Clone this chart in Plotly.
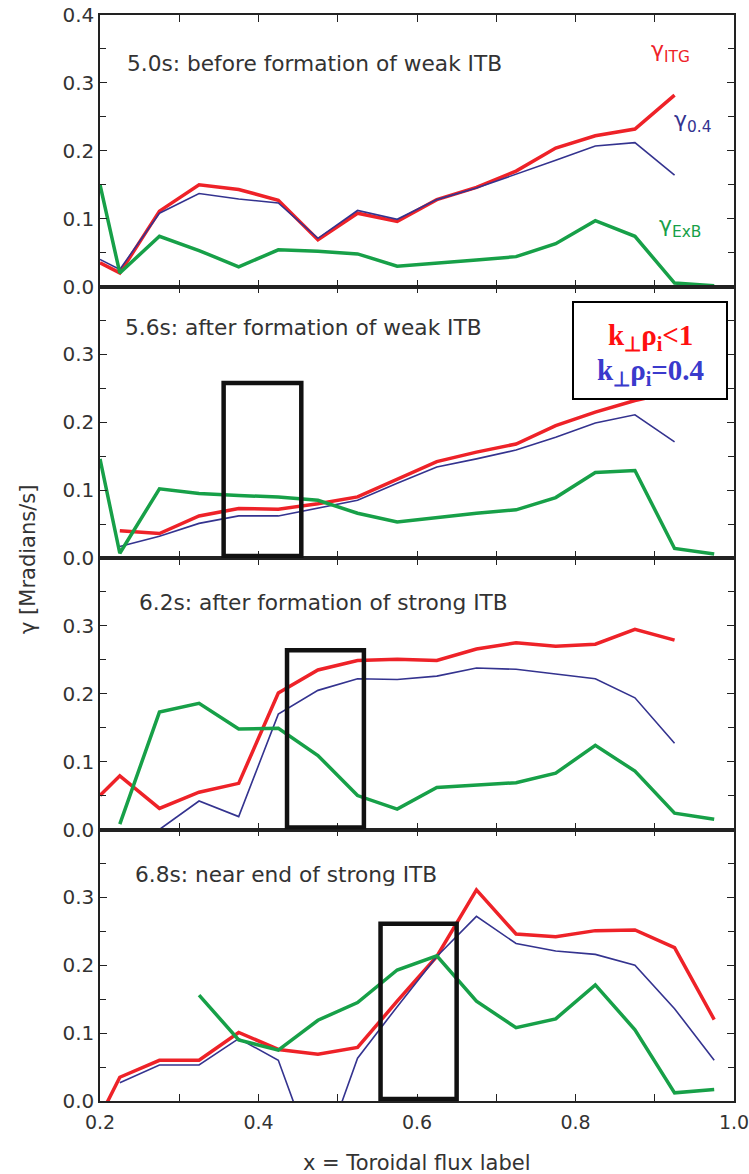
import plotly.graph_objects as go
from plotly.subplots import make_subplots

# ---------------- data ----------------
x_flux = [0.2, 0.225, 0.275, 0.325, 0.375, 0.425, 0.475, 0.525, 0.575, 0.625,
          0.675, 0.725, 0.775, 0.825, 0.875, 0.925, 0.975]

panel_titles = ["5.0s: before formation of weak ITB",
                "5.6s: after formation of weak ITB",
                "6.2s: after formation of strong ITB",
                "6.8s: near end of strong ITB"]

# 5.0 s
itg_50 = [0.035, 0.020, 0.111, 0.150, 0.143, 0.127, 0.069, 0.108, 0.096, 0.128,
          0.146, 0.170, 0.204, 0.222, 0.232, 0.282, None]
k04_50 = [0.040, 0.025, 0.108, 0.137, 0.129, 0.123, 0.071, 0.112, 0.099, 0.128,
          0.145, 0.165, 0.186, 0.207, 0.212, 0.164, None]
exb_50 = [0.150, 0.020, 0.074, 0.053, 0.029, 0.054, 0.052, 0.048, 0.030, 0.034,
          0.039, 0.044, 0.063, 0.097, 0.074, 0.005, 0.001]
# 5.6 s
itg_56 = [None, 0.040, 0.036, 0.062, 0.073, 0.072, 0.080, 0.090, 0.116, 0.142,
          0.156, 0.168, 0.195, 0.215, 0.232, 0.245, None]
k04_56 = [None, 0.017, 0.032, 0.051, 0.062, 0.062, 0.073, 0.085, 0.110, 0.134,
          0.146, 0.159, 0.178, 0.199, 0.211, 0.171, None]
exb_56 = [0.146, 0.007, 0.102, 0.095, 0.092, 0.090, 0.085, 0.066, 0.053, 0.060,
          0.066, 0.071, 0.089, 0.126, 0.129, 0.014, 0.006]
# 6.2 s
itg_62 = [0.050, 0.079, 0.031, 0.055, 0.068, 0.201, 0.235, 0.249, 0.251, 0.249,
          0.266, 0.275, 0.270, 0.273, 0.295, 0.279, None]
k04_62 = [None, None, 0.000, 0.042, 0.019, 0.170, 0.205, 0.222, 0.221, 0.226,
          0.238, 0.236, 0.229, 0.222, 0.194, 0.127, None]
exb_62 = [None, 0.008, 0.173, 0.186, 0.148, 0.149, 0.109, 0.050, 0.030, 0.062,
          0.066, 0.069, 0.083, 0.124, 0.086, 0.024, 0.015]
# 6.8 s
itg_68 = [-0.023, 0.035, 0.060, 0.060, 0.101, 0.076, 0.069, 0.079, 0.147, 0.213,
          0.311, 0.246, 0.242, 0.251, 0.252, 0.226, 0.120]
k04_68 = [None, 0.027, 0.053, 0.053, 0.092, 0.060, -0.100, 0.063, 0.139, 0.213,
          0.272, 0.232, 0.221, 0.216, 0.200, 0.136, 0.060]
exb_68 = [None, None, None, 0.156, 0.090, 0.075, 0.119, 0.145, 0.193, 0.214,
          0.147, 0.108, 0.121, 0.171, 0.105, 0.012, 0.017]

itg_all = [itg_50, itg_56, itg_62, itg_68]
k04_all = [k04_50, k04_56, k04_62, k04_68]
exb_all = [exb_50, exb_56, exb_62, exb_68]

# highlighted barrier regions (panel index, x start, x end, top)
box_panel = [2, 3, 4]
box_x0 = [0.356, 0.436, 0.554]
box_x1 = [0.454, 0.533, 0.650]
box_top = [0.258, 0.264, 0.261]

x_ticks = [0.2, 0.4, 0.6, 0.8, 1.0]

# ---------------- style ----------------
RED = "#ee2228"
BLUE = "#34338f"
GREEN = "#17a048"
TXT = "#333333"
SANS = "DejaVu Sans"

L, R, T, B = 100, 15, 15, 73
W, H = 749, 1174
PW, PH = W - L - R, H - T - B

fig = make_subplots(rows=4, cols=1, shared_xaxes=True, vertical_spacing=0)

for i in range(4):
    r = i + 1
    fig.add_trace(go.Scatter(x=x_flux, y=itg_all[i], mode="lines",
                             line=dict(color=RED, width=3.5), showlegend=False), row=r, col=1)
    fig.add_trace(go.Scatter(x=x_flux, y=k04_all[i], mode="lines",
                             line=dict(color=BLUE, width=1.6), showlegend=False), row=r, col=1)
    fig.add_trace(go.Scatter(x=x_flux, y=exb_all[i], mode="lines",
                             line=dict(color=GREEN, width=3.5), showlegend=False), row=r, col=1)

    yt = [0, 0.1, 0.2, 0.3, 0.4] if r == 1 else [0, 0.1, 0.2, 0.3]
    fig.update_yaxes(range=[0, 0.4], tickvals=yt, tickformat=".1f",
                     ticks="inside", ticklen=7, tickwidth=1.3, tickcolor="#222",
                     minor=dict(dtick=0.05, tick0=0, ticks="inside", ticklen=6,
                                tickwidth=1.3, tickcolor="#222"),
                     showline=True, linecolor="#222", linewidth=1.5, mirror="allticks",
                     showgrid=False, zeroline=False, automargin=False,
                     tickfont=dict(family=SANS, size=20, color=TXT),
                     row=r, col=1)
    fig.update_xaxes(range=[0.2, 1.0], tickvals=x_ticks, tickformat=".1f",
                     ticks="inside", ticklen=7, tickwidth=1.3, tickcolor="#222",
                     minor=dict(dtick=0.1, tick0=0.2, ticks="inside", ticklen=7,
                                tickwidth=1.3, tickcolor="#222"),
                     showline=True, linecolor="#222", linewidth=1.5, mirror="allticks",
                     showgrid=False, zeroline=False, ticklabeloverflow="allow",
                     ticklabelstandoff=3, automargin=False,
                     tickfont=dict(family=SANS, size=19, color=TXT),
                     row=r, col=1)

# panel titles
title_pos_x = [0.2315, 0.229, 0.2466, 0.2416]
title_pos_y = [0.329, 0.340, 0.334, 0.334]
for i in range(4):
    sfx = "" if i == 0 else str(i + 1)
    fig.add_annotation(x=title_pos_x[i], y=title_pos_y[i], xref="x" + sfx, yref="y" + sfx,
                       text=panel_titles[i], showarrow=False, xanchor="left", yanchor="middle",
                       font=dict(family=SANS, size=21.7, color=TXT))

# boxes
for p, a, b, t in zip(box_panel, box_x0, box_x1, box_top):
    sfx = str(p)
    fig.add_shape(type="rect", xref="x" + sfx, yref="y" + sfx, x0=a, x1=b, y0=0.003, y1=t,
                  line=dict(color="#111", width=4.5), fillcolor="rgba(0,0,0,0)")

# series labels (panel 1)
fig.add_annotation(x=0.893, y=0.346, xref="x", yref="y", showarrow=False,
                   text="γ<sub>ITG</sub>", xanchor="left", yanchor="middle",
                   font=dict(family=SANS, size=22, color=RED))
fig.add_annotation(x=0.922, y=0.243, xref="x", yref="y", showarrow=False,
                   text="γ<sub>0.4</sub>", xanchor="left", yanchor="middle",
                   font=dict(family=SANS, size=22, color=BLUE))
fig.add_annotation(x=0.903, y=0.088, xref="x", yref="y", showarrow=False,
                   text="γ<sub>ExB</sub>", xanchor="left", yanchor="middle",
                   font=dict(family=SANS, size=22, color=GREEN))

# legend box (panel 2), positioned in paper coordinates from pixel layout
def px_x(v):
    return (v - L) / PW

def px_y(v):
    return (H - B - v) / PH

fig.add_shape(type="rect", xref="paper", yref="paper", x0=px_x(573), x1=px_x(727),
              y0=px_y(399), y1=px_y(302), line=dict(color="black", width=2), fillcolor="white")
fig.add_annotation(x=px_x(650), y=px_y(337), xref="paper", yref="paper", showarrow=False,
                   text="<b>k<sub>⊥</sub>ρ<sub>i</sub>&lt;1</b>", xanchor="center", yanchor="middle",
                   font=dict(family="Liberation Serif", size=29, color="#ff1010"))
fig.add_annotation(x=px_x(650), y=px_y(372), xref="paper", yref="paper", showarrow=False,
                   text="<b>k<sub>⊥</sub>ρ<sub>i</sub>=0.4</b>", xanchor="center", yanchor="middle",
                   font=dict(family="Liberation Serif", size=29, color="#3a3acc"))

# axis titles
fig.add_annotation(x=px_x(416), y=px_y(1163), xref="paper", yref="paper",
                   text="x = Toroidal flux label", showarrow=False, xanchor="center",
                   yanchor="middle", font=dict(family=SANS, size=21, color=TXT))
fig.add_annotation(x=px_x(28), y=px_y(560), xref="paper", yref="paper",
                   text="γ [Mradians/s]", showarrow=False, textangle=-90, xanchor="center",
                   yanchor="middle", font=dict(family=SANS, size=21, color=TXT))

fig.update_layout(width=W, height=H, margin=dict(l=L, r=R, t=T, b=B, autoexpand=False),
                  plot_bgcolor="white", paper_bgcolor="white", showlegend=False)

fig.write_html("out.html")
